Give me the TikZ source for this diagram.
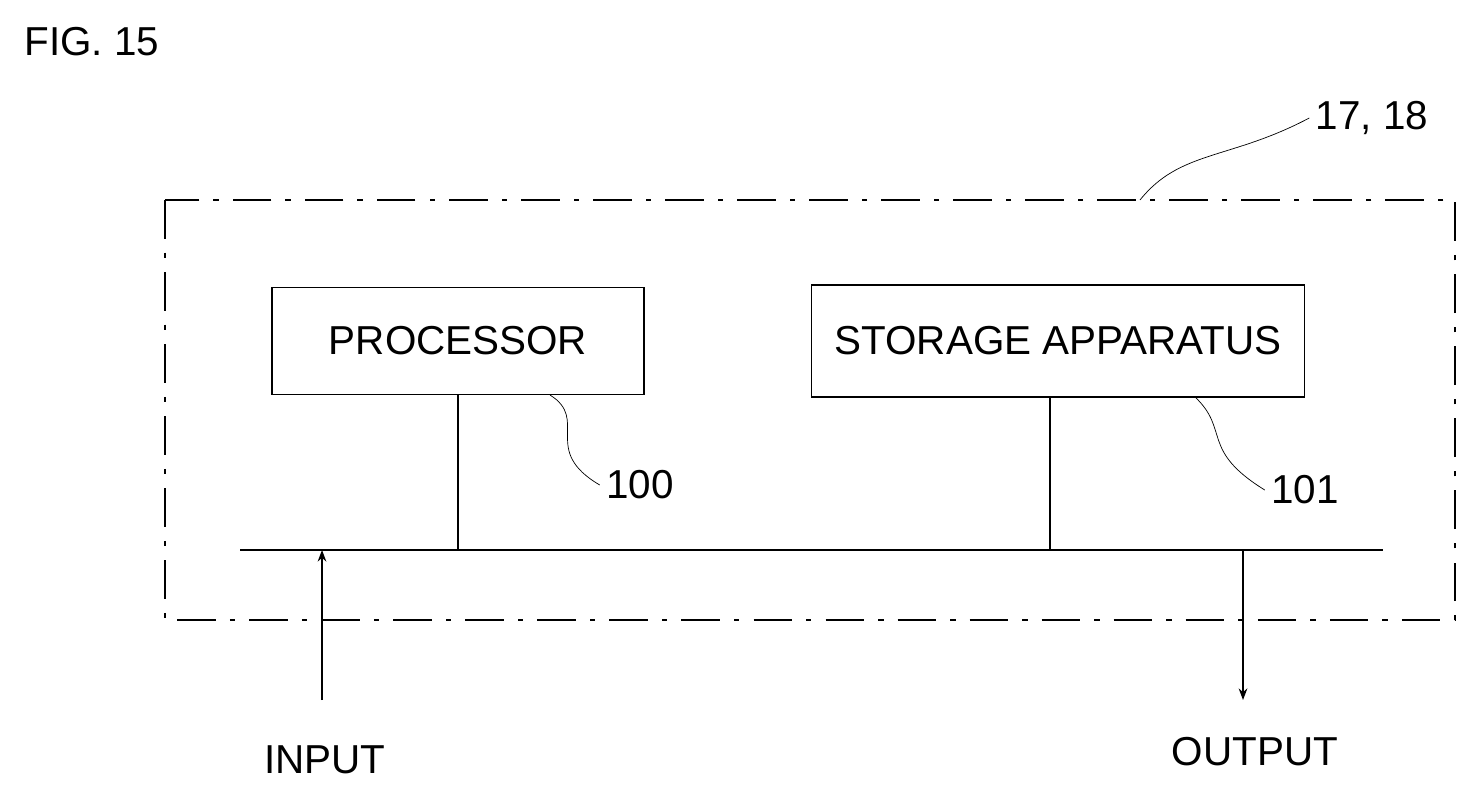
\documentclass[tikz,border=0pt]{standalone}
\usepackage{fontspec}
\setmainfont{Liberation Sans}
\usetikzlibrary{arrows.meta, positioning}
\begin{document}
\begin{tikzpicture}[x=0.02cm, y=-0.02cm, >=Stealth, thick,
  txt/.style={font=\fontsize{23}{25}\selectfont},
  blk/.style={draw, minimum width=#1, inner sep=0pt, txt},
  lead/.style={draw, thin}]
\useasboundingbox (0,0) rectangle (1483,793);

% title
\node[txt] (fig) at (92,42) {FIG. 15};

% outer dash-dot frame
\draw[dash pattern=on 22pt off 8pt on 3pt off 8pt] (165,200) rectangle (1455,620);
\node[txt] (ref) at (1372,118) {17, 18};
\coordinate (frm) at (1140,200);
\draw[lead] (frm) .. controls (1180,150) and (1230,160) .. (ref.west);

% blocks
\node[blk=7.44cm, minimum height=2.14cm] (proc) at (458,341) {PROCESSOR};
\node[blk=9.86cm, minimum height=2.24cm] (stor) at (1058,341) {STORAGE APPARATUS};

% bus
\coordinate (busL) at (240,550);
\coordinate (busR) at (1383,550);
\draw (busL) -- (busR);
\draw (proc.south) -- (proc.south |- busL);
\coordinate (sb) at (1050,397);
\draw (sb) -- (sb |- busL);

% reference numerals
\node[txt] (n100) at (640,485) {100};
\node[txt] (n101) at (1305,490) {101};
\coordinate (p100) at (550,395);
\coordinate (p101) at (1195,397);
\draw[lead] (p100) .. controls (590,420) and (540,450) .. (n100.west);
\draw[lead] (p101) .. controls (1230,430) and (1200,450) .. (n101.west);

% input / output
\node[txt] (in) at (325,760) {INPUT};
\node[txt] (out) at (1255,752) {OUTPUT};
\coordinate (inB) at (322,700);
\coordinate (outA) at (1243,550);
\coordinate (outB) at (1243,700);
\draw[->] (inB) -- (inB |- busL);
\draw[->] (outA) -- (outB);
\end{tikzpicture}
\end{document}
